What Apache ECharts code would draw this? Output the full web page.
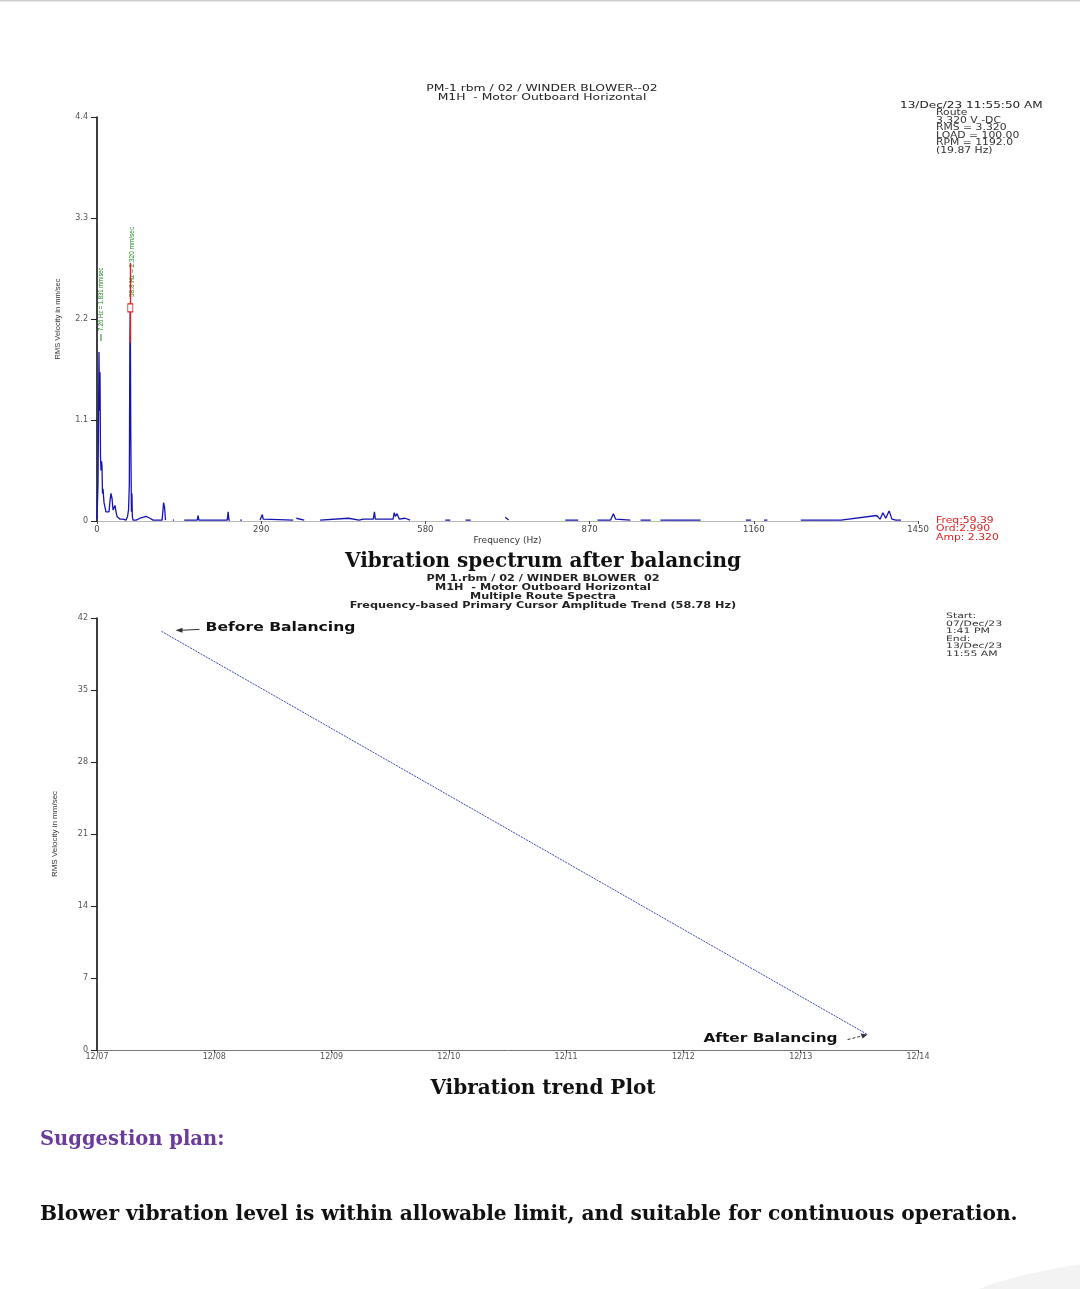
<!DOCTYPE html>
<html>
<head>
<meta charset="utf-8">
<script src="https://cdn.jsdelivr.net/npm/echarts@6.0.0/dist/echarts.min.js"></script>
<style>
html,body{margin:0;padding:0;background:#fff;}
#main{width:1080px;height:1289px;}
</style>
</head>
<body>
<div id="main"></div>
<script>
// spectrum after balancing (null = gap in the trace)
var freqHz = [0,1.8,2.7,3.5,4.4,5.3,6.2,7.1,8.0,8.8,9.7,10.6,12.4,14.1,15.9,17.7,19.4,21.2,23,24.7,26.5,28.3,30,31.8,33.6,35.4,37.1,40.7,46,51.3,
  53.9,55.7,57.1,58,58.8,59.6,60.8,61.7,62.4,63.6,69,76,86.6,93.7,99,115,117.6,119.3,121,null,
  134,136,null,154,177,178.6,180,230,231.6,233,235,null,253,256,null,288,292,293.5,346.5,null,352,366,null,
  394,444,463,470,488,490,491.6,523,525,527,530,534,544,553,null,615,624,null,651,660,null,721,727,null,
  827,850,null,884,907,912,916,942,null,960,978,null,995,1066,null,1146,1155,null,1178,1181,1184,null,
  1243,1314,1377,1383,1388,1393,1399,1404,1411,1420];
var ampMm = [0.02,0.4,0.38,1.84,1.2,1.62,0.7,0.55,0.65,0.6,0.3,0.35,0.2,0.18,0.1,0.12,0.08,0.1,0.22,0.3,0.25,0.12,0.14,0.17,0.1,0.05,0.04,0.02,0.02,0.01,
  0.05,0.12,0.4,1.9,2.32,1.0,0.1,0.3,0.05,0.01,0.01,0.03,0.05,0.03,0.01,0.01,0.2,0.15,0.01,null,
  0.01,0.01,null,0.01,0.01,0.06,0.01,0.01,0.1,0.01,0.01,null,0.01,0.01,null,0.01,0.07,0.02,0.01,null,0.03,0.01,null,
  0.01,0.03,0.01,0.02,0.02,0.1,0.02,0.02,0.09,0.05,0.08,0.02,0.03,0.01,null,0.01,0.01,null,0.01,0.01,null,0.04,0.01,null,
  0.01,0.01,null,0.01,0.01,0.08,0.02,0.01,null,0.01,0.01,null,0.01,0.01,null,0.01,0.01,null,0.01,0.02,0.01,null,
  0.01,0.01,0.06,0.02,0.09,0.03,0.11,0.02,0.01,0.01];

var cursorFreq = 58.8;
var cursorAmp = 2.32;
var peakLabels = [
  {f: 3.5, a: 1.84, text: '7.26 Hz = 1.831 mm/sec'},
  {f: 58.8, a: 2.32, text: '58.8 Hz = 2.320 mm/sec'}
];

// trend plot: days after 12/07 00:00
var trendDay = [0.55, 6.57];
var trendRms = [40.7, 1.5];
var dateLabels = ['12/07','12/08','12/09','12/10','12/11','12/12','12/13','12/14'];

var specData = [];
for (var i = 0; i < freqHz.length; i++) {
  if (freqHz[i] === null) {
    specData.push([freqHz[i - 1], '-']);
  } else {
    specData.push([freqHz[i], ampMm[i]]);
  }
}
var trendData = trendDay.map(function (d, i) { return [d, trendRms[i]]; });

var chart = echarts.init(document.getElementById('main'));

var smallFont = 'DejaVu Sans';
var serif = '"DejaVu Serif", serif';

chart.setOption({
  backgroundColor: '#fff',
  animation: false,
  grid: [
    {left: 97, top: 117, width: 821, height: 404},
    {left: 97, top: 618, width: 821, height: 432}
  ],
  xAxis: [
    {
      gridIndex: 0, type: 'value', min: 0, max: 1450, interval: 290,
      name: 'Frequency (Hz)', nameLocation: 'middle', nameGap: 15,
      nameTextStyle: {fontSize: 9, color: '#333', fontFamily: smallFont},
      axisLine: {lineStyle: {color: '#b8b8b8', width: 1}},
      axisTick: {show: true, length: 3, inside: false, lineStyle: {color: '#444'}},
      axisLabel: {fontSize: 8.5, color: '#444', margin: 4, fontFamily: smallFont,
        formatter: function (v) { return String(v); }},
      splitLine: {show: false}
    },
    {
      gridIndex: 1, type: 'value', min: 0, max: 7, interval: 1,
      axisLine: {lineStyle: {color: '#777', width: 1}},
      axisTick: {show: true, length: 3, lineStyle: {color: '#444'}},
      axisLabel: {fontSize: 8, color: '#555', margin: 3, fontFamily: smallFont,
        formatter: function (v) { return dateLabels[Math.round(v)]; }},
      splitLine: {show: false}
    }
  ],
  yAxis: [
    {
      gridIndex: 0, type: 'value', min: 0, max: 4.4, interval: 1.1,
      name: 'RMS Velocity in mm/sec', nameLocation: 'middle', nameGap: 35,
      nameTextStyle: {fontSize: 7.5, color: '#333', fontFamily: '"Liberation Sans Narrow", "Liberation Sans", sans-serif'},
      axisLine: {lineStyle: {color: '#000', width: 1.5}},
      axisTick: {show: true, length: 6, lineStyle: {color: '#222'}},
      axisLabel: {fontSize: 8, color: '#555', margin: 9, fontFamily: smallFont,
        formatter: function (v) { return v === 0 ? '0' : v.toFixed(1); }},
      splitLine: {show: false}
    },
    {
      gridIndex: 1, type: 'value', min: 0, max: 42, interval: 7,
      name: 'RMS Velocity in mm/sec', nameLocation: 'middle', nameGap: 38,
      nameTextStyle: {fontSize: 8, color: '#333', fontFamily: '"Liberation Sans Narrow", "Liberation Sans", sans-serif'},
      axisLine: {lineStyle: {color: '#000', width: 1.5}},
      axisTick: {show: true, length: 6, lineStyle: {color: '#222'}},
      axisLabel: {fontSize: 8, color: '#555', margin: 9, fontFamily: smallFont},
      splitLine: {show: false}
    }
  ],
  series: [
    {
      type: 'line', xAxisIndex: 0, yAxisIndex: 0, data: specData,
      showSymbol: false, connectNulls: false,
      lineStyle: {color: '#1414b4', width: 1.3},
      markLine: {
        silent: true, symbol: 'none', label: {show: false},
        lineStyle: {color: '#e02020', width: 1.4, type: 'solid'},
        data: [[{coord: [cursorFreq, 1.94]}, {coord: [cursorFreq, 2.81]}]]
      },
      markPoint: {
        silent: true, symbol: 'rect', symbolSize: [5, 8], label: {show: false},
        itemStyle: {color: '#fff', borderColor: '#e02020', borderWidth: 1},
        data: [{coord: [cursorFreq, cursorAmp]}]
      }
    },
    {
      type: 'line', xAxisIndex: 1, yAxisIndex: 1, data: trendData,
      showSymbol: false,
      lineStyle: {color: '#3848b8', width: 1, type: [2, 1]}
    }
  ]
});

// annotations placed through the axes
var g = [];
function txt(x, y, text, font, fill, align, sx, extra) {
  var o = {type: 'text', x: x, y: y, scaleX: sx || 1, silent: true,
    style: {text: text, font: font, fill: fill || '#000', textAlign: align || 'left',
      verticalAlign: 'middle', textVerticalAlign: 'middle'}};
  if (extra) { for (var k in extra) { o.style[k] = extra[k]; } }
  return o;
}

g.push({type: 'rect', shape: {x: 0, y: 0, width: 1080, height: 1.5}, style: {fill: '#cfcfcf'}, silent: true});
g.push({type: 'circle', shape: {cx: 1130, cy: 1700, r: 438}, style: {fill: '#f3f3f3'}, silent: true});

// spectrum header
g.push(txt(542, 89, 'PM-1 rbm / 02 / WINDER BLOWER--02', '9.5px DejaVu Sans', '#222', 'center', 1.3));
g.push(txt(542, 98, 'M1H  - Motor Outboard Horizontal', '9.5px DejaVu Sans', '#222', 'center', 1.3));
g.push(txt(900, 106, '13/Dec/23 11:55:50 AM', '8.5px DejaVu Sans', '#222', 'left', 1.42));
g.push(txt(936, 132, 'Route\n3.320 V -DC\nRMS = 3.320\nLOAD = 100.00\nRPM = 1192.0\n(19.87 Hz)',
  '8px DejaVu Sans', '#333', 'left', 1.35, {lineHeight: 7.6}));
g.push(txt(936, 529, 'Freq:59.39\nOrd:2.990\nAmp: 2.320', '8px DejaVu Sans', '#e02020', 'left', 1.35, {lineHeight: 8.5}));

// rotated peak labels
peakLabels.forEach(function (p, idx) {
  var pt = chart.convertToPixel({xAxisIndex: 0, yAxisIndex: 0}, [p.f, p.a]);
  var baseY = pt[1] - 11;
  var x = pt[0] + 2;
  if (idx === 0) {
    g.push({type: 'line', silent: true, shape: {x1: x, y1: baseY, x2: x, y2: baseY - 7},
      style: {stroke: '#1a8a1a', lineWidth: 1}});
    baseY -= 10;
  }
  g.push({type: 'text', x: x, y: baseY, rotation: Math.PI / 2, scaleX: idx === 0 ? 0.78 : 0.86, silent: true,
    style: {text: p.text, font: '7.5px "Liberation Sans", sans-serif', fill: '#1a8a1a',
      textAlign: 'left', verticalAlign: 'middle', textVerticalAlign: 'middle'}});
});

// captions
g.push(txt(543, 562, 'Vibration spectrum after balancing', 'bold 20px ' + serif, '#111', 'center'));
g.push(txt(543, 579, 'PM 1.rbm / 02 / WINDER BLOWER  02', 'bold 9px DejaVu Sans', '#222', 'center', 1.25));
g.push(txt(543, 588, 'M1H  - Motor Outboard Horizontal', 'bold 9px DejaVu Sans', '#222', 'center', 1.25));
g.push(txt(543, 597, 'Multiple Route Spectra', 'bold 9px DejaVu Sans', '#222', 'center', 1.25));
g.push(txt(543, 606, 'Frequency-based Primary Cursor Amplitude Trend (58.78 Hz)', 'bold 9px DejaVu Sans', '#222', 'center', 1.25));
g.push(txt(946, 635, 'Start:\n07/Dec/23\n1:41 PM\nEnd:\n13/Dec/23\n11:55 AM', '7.5px DejaVu Sans', '#333', 'left', 1.45, {lineHeight: 7.6}));

// trend arrows
var sp = chart.convertToPixel({xAxisIndex: 1, yAxisIndex: 1}, trendData[0]);
var ep = chart.convertToPixel({xAxisIndex: 1, yAxisIndex: 1}, trendData[1]);
g.push({type: 'line', silent: true, shape: {x1: sp[0] + 38, y1: sp[1] - 2, x2: sp[0] + 18, y2: sp[1] - 1},
  style: {stroke: '#333', lineWidth: 1}});
g.push({type: 'polygon', silent: true, shape: {points: [[sp[0] + 14, sp[1] - 1], [sp[0] + 21, sp[1] - 3.5], [sp[0] + 21, sp[1] + 1.5]]},
  style: {fill: '#333'}});
g.push(txt(sp[0] + 44, sp[1] - 3, 'Before Balancing', 'bold 12px DejaVu Sans', '#111', 'left', 1.3));
g.push(txt(ep[0] - 30, ep[1] + 4, 'After Balancing', 'bold 12px DejaVu Sans', '#111', 'right', 1.28));
g.push({type: 'line', silent: true, shape: {x1: ep[0] - 20, y1: ep[1] + 5, x2: ep[0] - 4, y2: ep[1] + 1},
  style: {stroke: '#333', lineWidth: 1, lineDash: [3, 2]}});
g.push({type: 'polygon', silent: true, shape: {points: [[ep[0], ep[1]], [ep[0] - 7, ep[1] - 1], [ep[0] - 5, ep[1] + 4]]},
  style: {fill: '#333'}});

g.push(txt(543, 1089, 'Vibration trend Plot', 'bold 20px ' + serif, '#111', 'center'));
g.push(txt(40, 1140, 'Suggestion plan:', 'bold 19.5px ' + serif, '#6a3a9c', 'left'));
g.push(txt(40, 1215, 'Blower vibration level is within allowable limit, and suitable for continuous operation.',
  'bold 20.2px ' + serif, '#111', 'left'));

chart.setOption({graphic: g});
</script>
</body>
</html>
